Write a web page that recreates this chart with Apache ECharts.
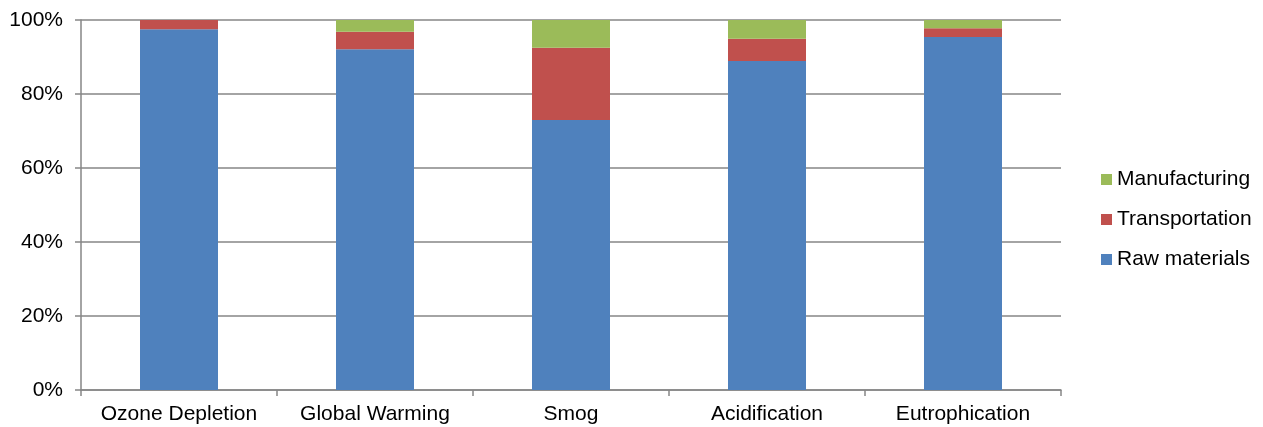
<!DOCTYPE html>
<html>
<head>
<meta charset="utf-8">
<script src="https://cdn.jsdelivr.net/npm/echarts@6/dist/echarts.min.js"></script>
<style>html,body{margin:0;padding:0;background:#fff}#c{width:1263px;height:427px}</style>
</head>
<body>
<div id="c"></div>
<script>
const categories = ['Ozone Depletion', 'Global Warming', 'Smog', 'Acidification', 'Eutrophication'];
const rawMaterials = [97.5, 92.1, 73.0, 88.9, 95.4];
const transportation = [2.5, 4.7, 19.5, 6.0, 2.4];
const manufacturing = [0.0, 3.2, 7.5, 5.1, 2.2];
const yTicks = [0, 20, 40, 60, 80, 100];

const chart = echarts.init(document.getElementById('c'));
const font = 'Liberation Sans, Arial, sans-serif';
function ser(name, data, color) {
  return { name, type: 'bar', stack: 'total', data, barWidth: 78,
    itemStyle: { color }, emphasis: { disabled: true } };
}
chart.setOption({
  animation: false,
  grid: { left: 81, right: 202, top: 20, bottom: 37 },
  legend: {
    orient: 'vertical', left: 1096, top: 164,
    data: ['Manufacturing', 'Transportation', 'Raw materials'],
    itemWidth: 11, itemHeight: 11, itemGap: 19,
    icon: 'rect',
    textStyle: { fontFamily: font, fontSize: 21, color: '#000' }
  },
  xAxis: {
    type: 'category', data: categories,
    axisLine: { lineStyle: { color: '#868686', width: 1.5 } },
    axisTick: { show: true, interval: 0, length: 6, lineStyle: { color: '#868686', width: 1.5 } },
    axisLabel: { interval: 0, hideOverlap: false, fontFamily: font, fontSize: 21, color: '#000', margin: 14 }
  },
  yAxis: {
    type: 'value', min: yTicks[0], max: yTicks[yTicks.length - 1], interval: 20,
    axisLine: { show: true, lineStyle: { color: '#868686', width: 1.5 } },
    axisTick: { show: true, length: 6, lineStyle: { color: '#868686', width: 1.5 } },
    axisLabel: { fontFamily: font, fontSize: 21, color: '#000', margin: 18, formatter: v => v + '%' },
    splitLine: { lineStyle: { color: '#868686', width: 1.5 } }
  },
  series: [
    ser('Raw materials', rawMaterials, '#4F81BD'),
    ser('Transportation', transportation, '#C0504D'),
    ser('Manufacturing', manufacturing, '#9BBB59')
  ]
});
</script>
</body>
</html>
